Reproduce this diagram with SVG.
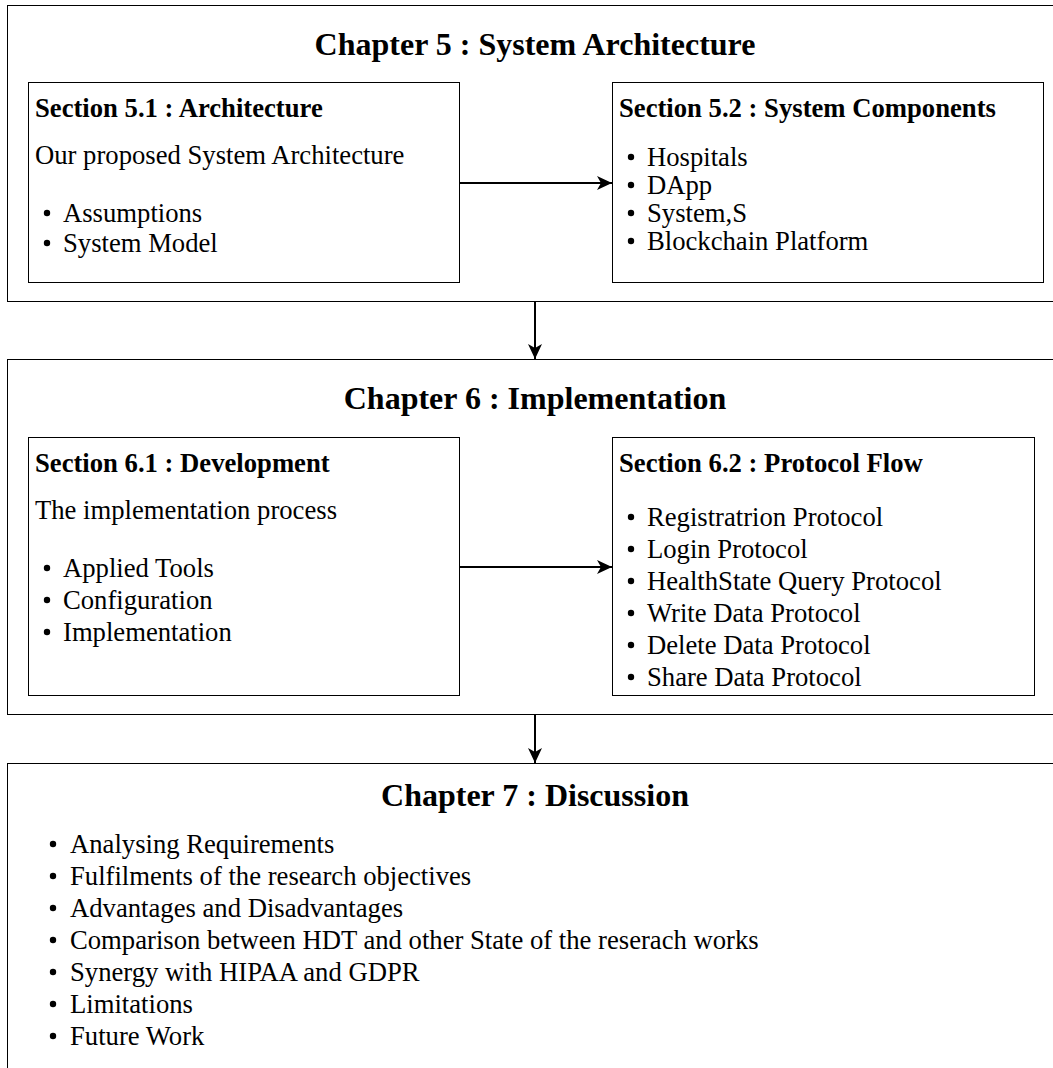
<svg xmlns="http://www.w3.org/2000/svg" width="1053" height="1068" viewBox="0 0 1053 1068">
<style>
.box{fill:#fff;stroke:#000;stroke-width:1}
.h{font-family:"Liberation Serif",serif;font-weight:bold;font-size:32px;fill:#000;text-anchor:middle}
.t{font-family:"Liberation Serif",serif;font-weight:bold;font-size:26.67px;fill:#000}
.b{font-family:"Liberation Serif",serif;font-size:26.67px;fill:#000}
.conn{stroke:#000;stroke-width:2;fill:none}
</style>
<defs>
<marker id="ah" markerUnits="userSpaceOnUse" markerWidth="16" markerHeight="14" refX="15" refY="7" orient="auto">
<path d="M0,0 L15,7 L0,14 L4,7 Z" fill="#000"/>
</marker>
<circle id="dot" r="3.2" fill="#000"/>
</defs>
<rect width="1053" height="1068" fill="#fff"/>
<g id="ch5">
<rect class="box" x="7.5" y="5.5" width="1066" height="296"/>
<text class="h" x="535" y="55">Chapter 5 : System Architecture</text>
</g>
<g id="sec51">
<rect class="box" x="28.5" y="82.5" width="431" height="200"/>
<text class="t" x="35" y="117">Section 5.1 : Architecture</text>
<text class="b" x="35" y="164">Our proposed System Architecture</text>
<use href="#dot" x="47" y="213"/><text class="b" x="63" y="222">Assumptions</text>
<use href="#dot" x="47" y="243"/><text class="b" x="63" y="252">System Model</text>
</g>
<g id="sec52">
<rect class="box" x="612.5" y="82.5" width="431" height="200"/>
<text class="t" x="619" y="117">Section 5.2 : System Components</text>
<use href="#dot" x="631" y="157"/><text class="b" x="647" y="166">Hospitals</text>
<use href="#dot" x="631" y="185"/><text class="b" x="647" y="194">DApp</text>
<use href="#dot" x="631" y="213"/><text class="b" x="647" y="222">System,S</text>
<use href="#dot" x="631" y="241"/><text class="b" x="647" y="250">Blockchain Platform</text>
</g>
<g id="ch6">
<rect class="box" x="7.5" y="359.5" width="1066" height="355"/>
<text class="h" x="535" y="409">Chapter 6 : Implementation</text>
</g>
<g id="sec61">
<rect class="box" x="28.5" y="437.5" width="431" height="258"/>
<text class="t" x="35" y="472">Section 6.1 : Development</text>
<text class="b" x="35" y="519">The implementation process</text>
<use href="#dot" x="47" y="568"/><text class="b" x="63" y="577">Applied Tools</text>
<use href="#dot" x="47" y="600"/><text class="b" x="63" y="609">Configuration</text>
<use href="#dot" x="47" y="632"/><text class="b" x="63" y="641">Implementation</text>
</g>
<g id="sec62">
<rect class="box" x="612.5" y="437.5" width="422" height="258"/>
<text class="t" x="619" y="472">Section 6.2 : Protocol Flow</text>
<use href="#dot" x="631" y="517"/><text class="b" x="647" y="526">Registratrion Protocol</text>
<use href="#dot" x="631" y="549"/><text class="b" x="647" y="558">Login Protocol</text>
<use href="#dot" x="631" y="581"/><text class="b" x="647" y="590">HealthState Query Protocol</text>
<use href="#dot" x="631" y="613"/><text class="b" x="647" y="622">Write Data Protocol</text>
<use href="#dot" x="631" y="645"/><text class="b" x="647" y="654">Delete Data Protocol</text>
<use href="#dot" x="631" y="677"/><text class="b" x="647" y="686">Share Data Protocol</text>
</g>
<g id="ch7">
<rect class="box" x="7.5" y="763.5" width="1066" height="330"/>
<text class="h" x="535" y="806">Chapter 7 : Discussion</text>
<use href="#dot" x="53" y="844"/><text class="b" x="70" y="853">Analysing Requirements</text>
<use href="#dot" x="53" y="876"/><text class="b" x="70" y="885">Fulfilments of the research objectives</text>
<use href="#dot" x="53" y="908"/><text class="b" x="70" y="917">Advantages and Disadvantages</text>
<use href="#dot" x="53" y="940"/><text class="b" x="70" y="949">Comparison between HDT and other State of the reserach works</text>
<use href="#dot" x="53" y="972"/><text class="b" x="70" y="981">Synergy with HIPAA and GDPR</text>
<use href="#dot" x="53" y="1004"/><text class="b" x="70" y="1013">Limitations</text>
<use href="#dot" x="53" y="1036"/><text class="b" x="70" y="1045">Future Work</text>
</g>
<g id="connectors">
<line class="conn" x1="460" y1="183" x2="612" y2="183" marker-end="url(#ah)"/>
<line class="conn" x1="535" y1="302" x2="535" y2="359" marker-end="url(#ah)"/>
<line class="conn" x1="460" y1="567" x2="612" y2="567" marker-end="url(#ah)"/>
<line class="conn" x1="535" y1="715" x2="535" y2="763" marker-end="url(#ah)"/>
</g>
</svg>
